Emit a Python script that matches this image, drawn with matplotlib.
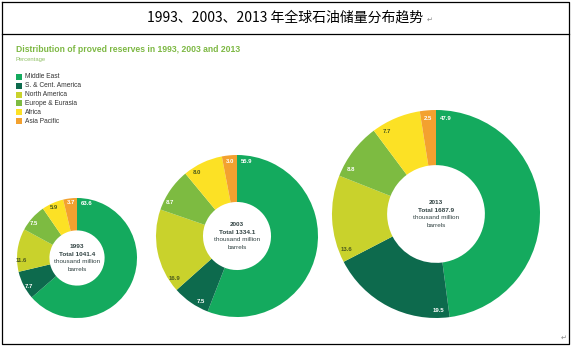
import numpy as np
import matplotlib
matplotlib.use("Agg")
import matplotlib.pyplot as plt
from matplotlib.patches import Rectangle

# 数据
regions = ["Middle East", "S. & Cent. America", "North America",
           "Europe & Eurasia", "Africa", "Asia Pacific"]
years = ["1993", "2003", "2013"]
totals = ["1041.4", "1334.1", "1687.9"]
share_1993 = [63.6, 7.7, 11.6, 7.5, 5.9, 3.7]
share_2003 = [55.9, 7.5, 16.9, 8.7, 8.0, 3.0]
share_2013 = [47.9, 19.5, 13.6, 8.8, 7.7, 2.5]
shares = [share_1993, share_2003, share_2013]

colors = ["#14AA5E", "#0D6A4D", "#C9D22C", "#7DBB41", "#FCE125", "#F3A12F"]
label_colors = ["white", "white", "#4B5A1E", "white", "#4B5A1E", "white"]

W, H = 571, 346
# layout (pixels, image coords: y down)
centers = [(77, 258), (237, 236), (436, 214)]
radii = [60, 81, 104]
holes = [0.46, 0.42, 0.47]

fig = plt.figure(figsize=(W / 100, H / 100), dpi=100)
ax = fig.add_axes([0, 0, 1, 1])

for vals, (cx, cy), r, hole, yr, tot in zip(shares, centers, radii, holes, years, totals):
    ax.pie(vals, center=(cx, H - cy), radius=r, startangle=90, counterclock=False,
           colors=colors, wedgeprops=dict(width=r * (1 - hole), edgecolor="none"))
    # value labels near outer edge, at start of each wedge
    cum = 0.0
    r_lab = r * 0.925
    for v, lc in zip(vals, label_colors):
        span = 360 * v / 100
        off = min(np.degrees(10.0 / r_lab), span / 2)
        th = np.radians(360 * cum / 100 + off)
        x = cx + r_lab * np.sin(th)
        y = cy - r_lab * np.cos(th)
        ax.text(x, H - y, f"{v:.1f}", color=lc, fontsize=4.3, fontweight="bold",
                ha="center", va="center", family="Liberation Sans")
        cum += v
    # centre text
    lines = [(yr, "bold"), (f"Total {tot}", "bold"),
             ("thousand million", "normal"), ("barrels", "normal")]
    for i, (t, fw) in enumerate(lines):
        ax.text(cx, H - (cy - 11.5 + i * 7.7), t, color="#334444", fontsize=4.6,
                fontweight=fw, ha="center", va="center", family="Liberation Sans")

# heading
ax.text(16, H - 50, "Distribution of proved reserves in 1993, 2003 and 2013",
        color="#7DB843", fontsize=6.2, fontweight="bold", ha="left", va="center",
        family="Liberation Sans")
ax.text(16, H - 59, "Percentage", color="#8DBF62", fontsize=4.2, ha="left",
        va="center", family="Liberation Sans")

# legend
for i, (name, c) in enumerate(zip(regions, colors)):
    yy = 76.7 + i * 8.9
    ax.add_patch(Rectangle((16, H - yy - 3), 6, 6, color=c, lw=0))
    ax.text(25, H - yy, name, color="#333333", fontsize=4.8, ha="left",
            va="center", family="Liberation Sans")

# title row and table border
ax.text(285, H - 17.5, "1993、2003、2013 年全球石油储量分布趋势", fontsize=10,
        ha="center", va="center", family=["Noto Sans CJK SC", "DejaVu Sans"])
ax.text(430, H - 20, "\u21b5", fontsize=5, color="#888888", ha="center", va="center",
        family=["DejaVu Sans"])
ax.text(564, H - 338, "\u21b5", fontsize=5, color="#888888", ha="center", va="center",
        family=["DejaVu Sans"])
ax.plot([1.5, 568.5, 568.5, 1.5, 1.5], [H - 1.5, H - 1.5, H - 343.5, H - 343.5, H - 1.5],
        color="black", lw=0.9, clip_on=False)
ax.plot([1.5, 568.5], [H - 33.5, H - 33.5], color="black", lw=0.9)

ax.set_xlim(0, W)
ax.set_ylim(0, H)
ax.set_aspect("equal")
ax.axis("off")

fig.savefig("out.png", dpi=100, facecolor="white")
